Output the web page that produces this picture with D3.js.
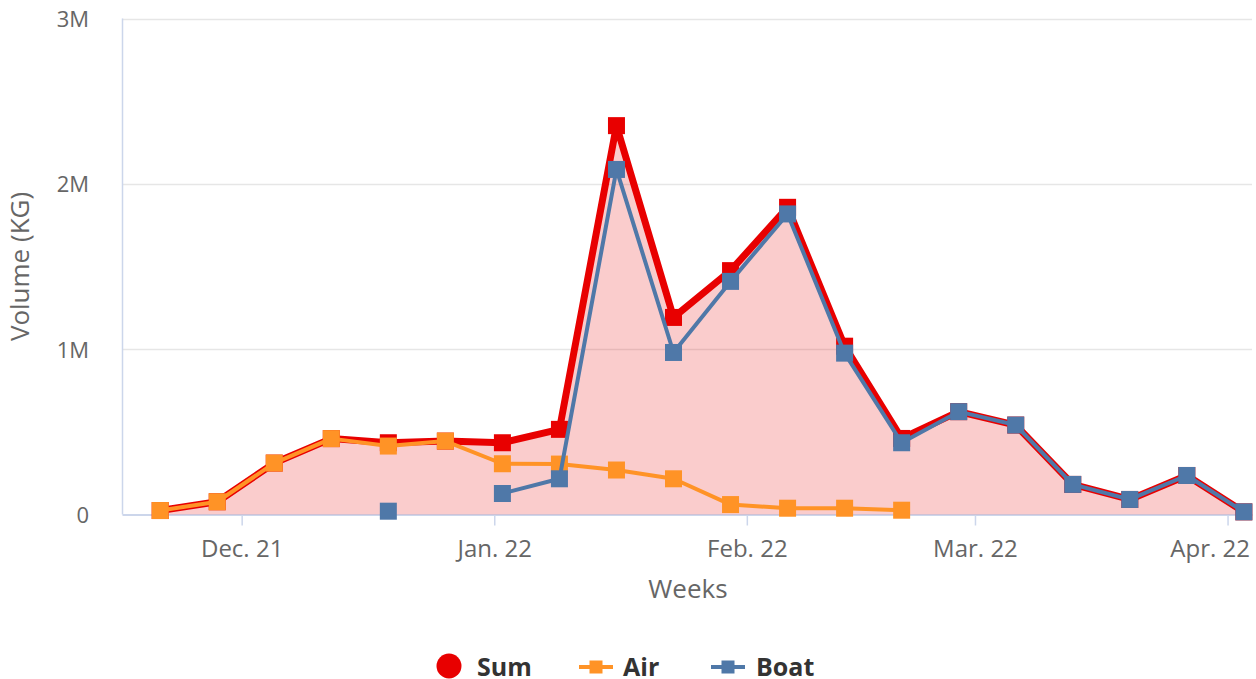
<!DOCTYPE html>
<html>
<head>
<meta charset="utf-8">
<script src="https://cdn.jsdelivr.net/npm/d3@7"></script>
<style>
  html, body { margin: 0; padding: 0; background: #fff; }
  svg { display: block; font-family: "Open Sans", "Noto Sans", sans-serif; }
</style>
</head>
<body>
<svg id="chart" width="1256" height="679"></svg>
<script>
// ---- data (values in kg) ----
const weeks = ["2021-11-21","2021-11-28","2021-12-05","2021-12-12","2021-12-19","2021-12-26",
  "2022-01-02","2022-01-09","2022-01-16","2022-01-23","2022-01-30","2022-02-06","2022-02-13",
  "2022-02-20","2022-02-27","2022-03-06","2022-03-13","2022-03-20","2022-03-27","2022-04-03"];
const sumValues = [24000, 77000, 311000, 459000, 434000, 444000, 434000, 515000, 2352000, 1192000,
  1475000, 1858000, 1018000, 460000, 622000, 541000, 182000, 91000, 236000, 16000];
const airValues = [24000, 77000, 311000, 459000, 414000, 444000, 307000, 305000, 269000, 216000,
  60000, 38000, 38000, 26000, null, null, null, null, null, null];
const boatValues = [null, null, null, null, 20000, null, 127000, 216000, 2087000, 980000,
  1410000, 1818000, 976000, 434000, 622000, 541000, 182000, 91000, 236000, 16000];
const xTickDates = ["2021-12-01","2022-01-01","2022-02-01","2022-03-01","2022-04-01"];
const xTickLabels = ["Dec. 21","Jan. 22","Feb. 22","Mar. 22","Apr. 22"];
const yTickValues = [0, 1000000, 2000000, 3000000];
const yTickLabels = ["0","1M","2M","3M"];
const seriesNames = ["Sum","Air","Boat"];
const seriesColors = ["#e80000","#ff9326","#4f78a8"];

// ---- setup ----
const parse = s => { const p = s.split("-").map(Number); return new Date(Date.UTC(p[0], p[1]-1, p[2])); };
const svg = d3.select("#chart");
const pLeft = 122, pRight = 1252, pTop = 18.5, pBottom = 514.5;

const x = d3.scaleUtc()
  .domain([new Date(Date.UTC(2021,10,16,7,30)), new Date(Date.UTC(2022,3,4,0,0))])
  .range([pLeft, pRight]);
const y = d3.scaleLinear().domain([0, 3000000]).range([pBottom, pTop]);

const mk = vals => weeks.map((w,i) => ({ d: parse(w), v: vals[i] }));
const sumData = mk(sumValues), airData = mk(airValues), boatData = mk(boatValues);

// grid
svg.append("g").selectAll("line").data(yTickValues.filter(v => v > 0)).join("line")
  .attr("x1", pLeft).attr("x2", pRight)
  .attr("y1", d => Math.round(y(d)) + 0.5).attr("y2", d => Math.round(y(d)) + 0.5)
  .attr("stroke", "#e6e6e6").attr("stroke-width", 1.5);

// y axis
const yAxis = d3.axisLeft(y).tickValues(yTickValues)
  .tickFormat((d,i) => yTickLabels[i]).tickSize(0).tickPadding(33);
const gy = svg.append("g").attr("transform", `translate(${pLeft},0)`).call(yAxis);
gy.select(".domain").remove();
gy.selectAll("text").attr("fill", "#666").style("font-size", "22px")
  .attr("dy", "0.36em").attr("font-family", "Open Sans");
svg.append("line").attr("x1", pLeft + 0.5).attr("x2", pLeft + 0.5).attr("y1", pTop).attr("y2", pBottom)
  .attr("stroke", "#ccd6eb").attr("stroke-width", 1.5);

// x axis
const xAxis = d3.axisBottom(x).tickValues(xTickDates.map(parse))
  .tickFormat((d,i) => xTickLabels[i]).tickSize(11).tickSizeOuter(0).tickPadding(14);
const gx = svg.append("g").attr("transform", `translate(0,${pBottom})`).call(xAxis);
gx.select(".domain").attr("stroke", "#ccd6eb").attr("stroke-width", 2);
gx.selectAll(".tick line").attr("stroke", "#ccd6eb").attr("stroke-width", 1.5);
gx.selectAll("text").attr("fill", "#666").style("font-size", "24px").attr("font-family", "Open Sans");
// keep the last label inside the chart, as the original does
gx.selectAll(".tick").each(function() {
  const t = d3.select(this), tx = +t.attr("transform").match(/translate\(([-\d.]+)/)[1];
  const txt = t.select("text"), w = txt.node().getComputedTextLength();
  if (tx + w / 2 > 1250) txt.attr("x", 1250 - tx - w / 2);
});

// axis titles
svg.append("text").attr("x", 688).attr("y", 598).attr("text-anchor", "middle")
  .attr("fill", "#666").style("font-size", "26px").text("Weeks");
svg.append("text").attr("transform", `translate(29,${(pTop+pBottom)/2}) rotate(-90)`)
  .attr("text-anchor", "middle").attr("fill", "#666").style("font-size", "26px").text("Volume (KG)");

// Sum area + line
const area = d3.area().x(d => x(d.d)).y0(y(0)).y1(d => y(d.v));
svg.append("path").datum(sumData).attr("d", area).attr("fill", seriesColors[0]).attr("fill-opacity", 0.2);

const line = d3.line().defined(d => d.v != null).x(d => x(d.d)).y(d => y(d.v));
const ms = 17;
function drawSeries(data, color, width) {
  svg.append("path").datum(data).attr("d", line).attr("fill", "none")
    .attr("stroke", color).attr("stroke-width", width).attr("stroke-linejoin", "round");
  svg.append("g").selectAll("rect").data(data.filter(d => d.v != null)).join("rect")
    .attr("x", d => x(d.d) - ms/2).attr("y", d => y(d.v) - ms/2)
    .attr("width", ms).attr("height", ms).attr("fill", color);
}
drawSeries(sumData, seriesColors[0], 7);
drawSeries(airData, seriesColors[1], 4);
drawSeries(boatData, seriesColors[2], 4);

// legend
const lg = svg.append("g");
const ly = 666;
lg.append("circle").attr("cx", 449).attr("cy", ly).attr("r", 12.5).attr("fill", seriesColors[0]);
[[1, 579], [2, 711]].forEach(([i, x0]) => {
  lg.append("line").attr("x1", x0).attr("x2", x0 + 34).attr("y1", ly + 1).attr("y2", ly + 1)
    .attr("stroke", seriesColors[i]).attr("stroke-width", 4);
  lg.append("rect").attr("x", x0 + 17 - 6.5).attr("y", ly + 1 - 6.5).attr("width", 13).attr("height", 13)
    .attr("fill", seriesColors[i]);
});
[[0, 477], [1, 623], [2, 756]].forEach(([i, tx]) => {
  lg.append("text").attr("x", tx).attr("y", ly + 10).attr("fill", "#333")
    .style("font-size", "25px").style("font-weight", "bold").text(seriesNames[i]);
});
</script>
</body>
</html>
